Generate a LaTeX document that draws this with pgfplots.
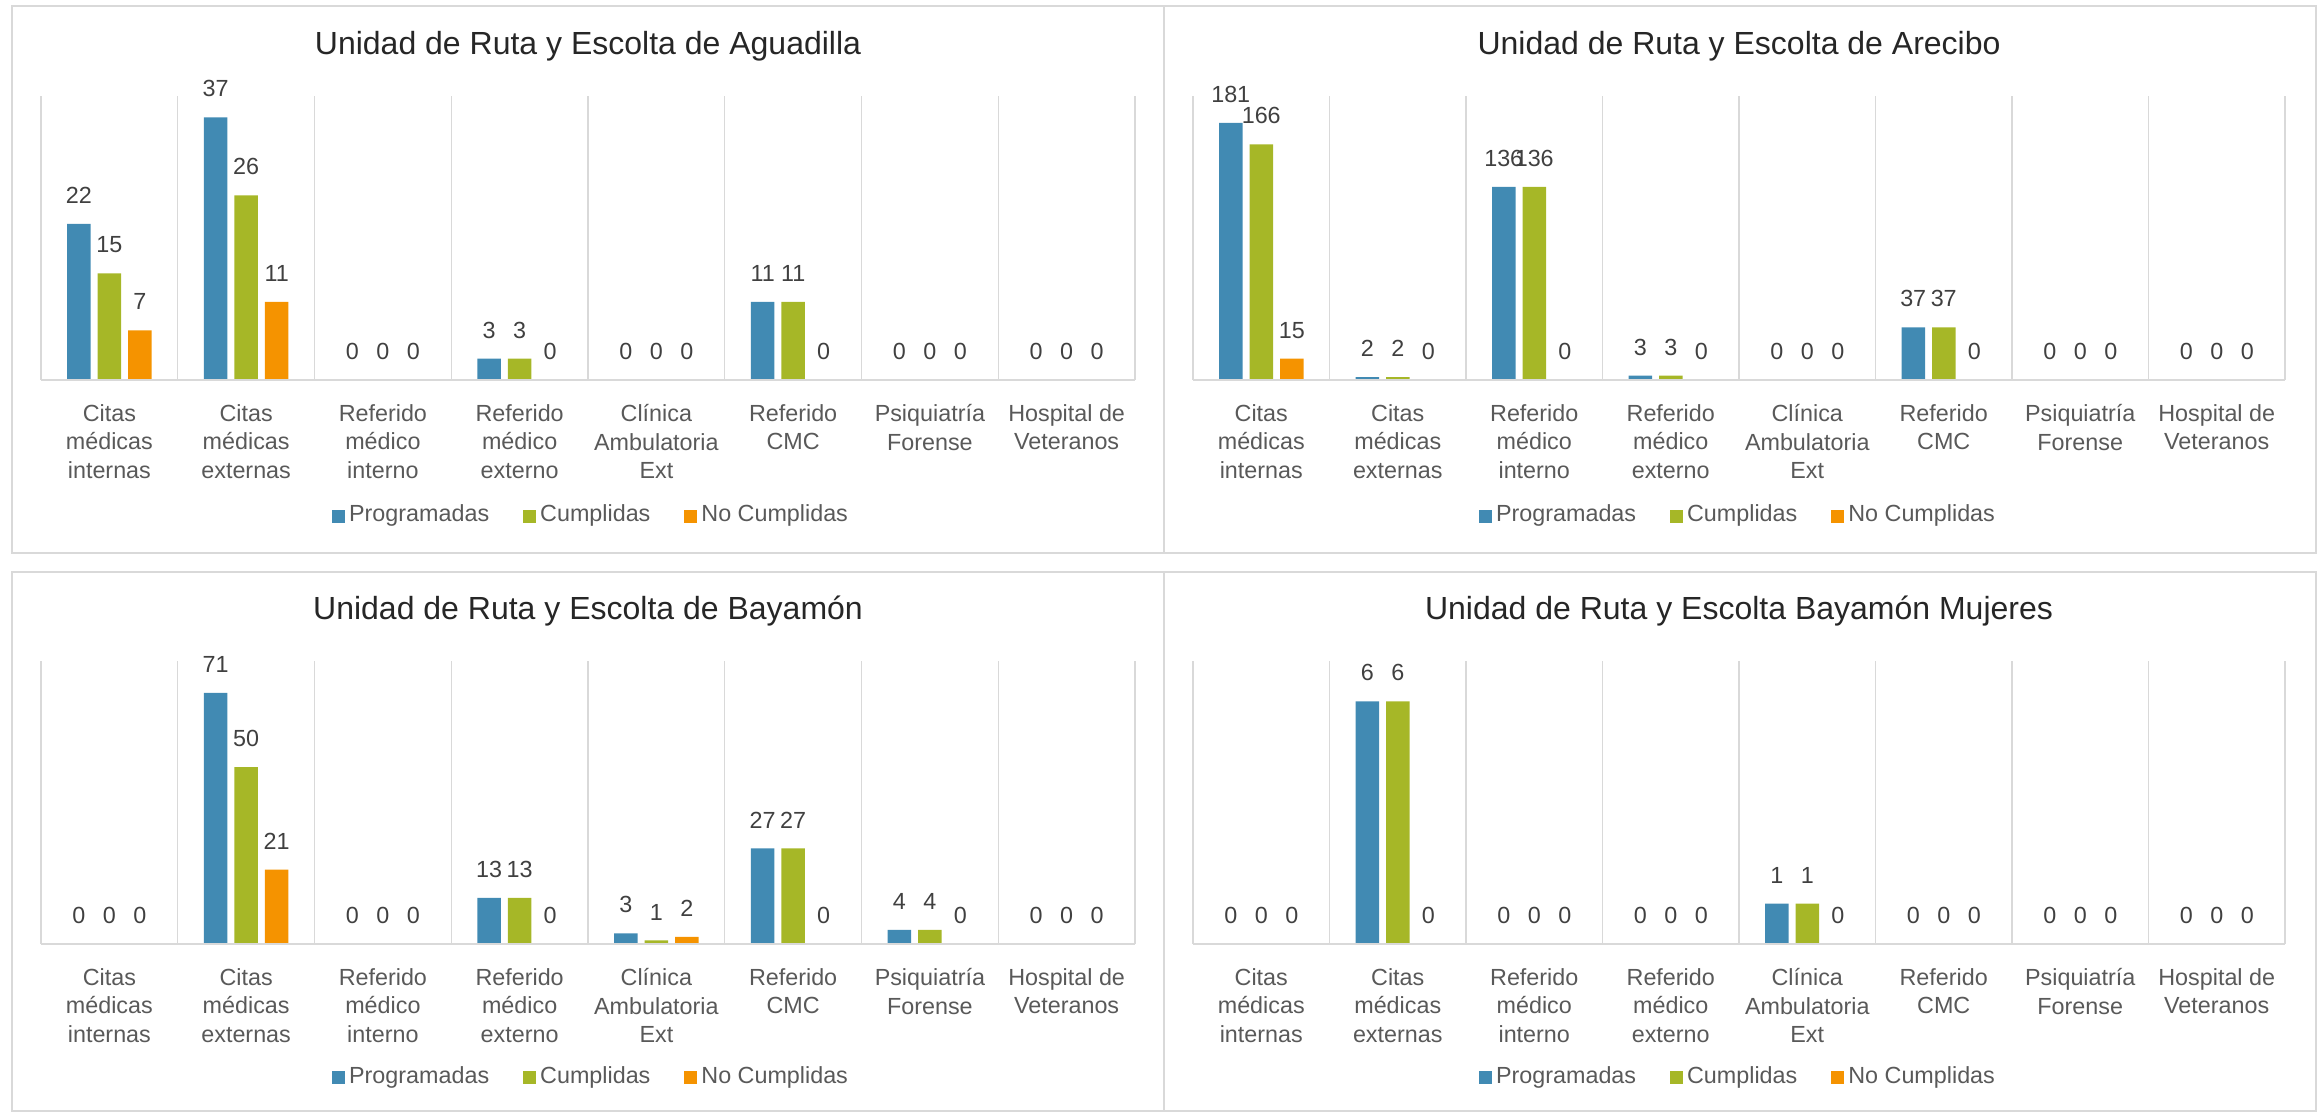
\documentclass[border=0pt]{standalone}
\usepackage{pgfplots}
\pgfplotsset{compat=1.18}
\usepackage{fontspec}
\setmainfont{Liberation Sans}
\definecolor{cblue}{HTML}{418AB3}
\definecolor{cgreen}{HTML}{A6B727}
\definecolor{corange}{HTML}{F59300}
\definecolor{gridc}{HTML}{D9D9D9}
\definecolor{txt}{HTML}{595959}
\definecolor{dlab}{HTML}{404040}
\definecolor{ttl}{HTML}{262626}
\pgfplotsset{
 sq legend/.style={legend image code/.code={\fill[##1] (0pt,-1.95pt) rectangle (3.9pt,1.95pt);}},
 panel/.style={
  scale only axis, ybar=2.1pt, bar width=7.05pt,
  ymin=0, xmin=-0.5, xmax=7.5,
  axis on top,
  axis x line*=bottom, axis y line=none,
  x axis line style={gridc, line width=0.7pt},
  xtick={0,...,7}, major tick length=0pt,
  xticklabels={{Citas\\médicas\\internas},{Citas\\médicas\\externas},{Referido\\médico\\interno},{Referido\\médico\\externo},{Clínica\\Ambulatoria\\Ext},{Referido\\CMC},{Psiquiatría\\Forense},{Hospital de\\Veteranos}},
  xticklabel style={align=center, font=\fontsize{7}{8.55}\selectfont, text=txt, yshift=-3.8pt},
  minor xtick={-0.5,0.5,...,7.5}, xminorgrids, minor grid style={gridc, line width=0.4pt}, minor tick length=0pt,
  ytick=\empty,
  /pgf/number format/assume math mode=true,
  nodes near coords,
  every node near coord/.append style={font=\fontsize{7}{8}\selectfont, text=dlab, yshift=2.6pt},
  legend columns=-1,
  legend style={draw=none, fill=none, anchor=center, font=\fontsize{7}{8}\selectfont, text=txt,
    nodes={inner sep=1.2pt},
    /tikz/every even column/.append style={column sep=9pt}},
  clip=false,
 }
}
\begin{document}
\begin{tikzpicture}
\path[use as bounding box] (0,0) rectangle (695.7pt,333.6pt);
\draw[gridc, line width=0.6pt] (3.6pt,167.7pt) rectangle (349.2pt,331.8pt);
\draw[gridc, line width=0.6pt] (349.2pt,167.7pt) rectangle (694.8pt,331.8pt);
\draw[gridc, line width=0.6pt] (3.6pt,0.3pt) rectangle (349.2pt,162pt);
\draw[gridc, line width=0.6pt] (349.2pt,0.3pt) rectangle (694.8pt,162pt);

% Panel 1: Aguadilla
\begin{axis}[panel, at={(12.3pt,219.6pt)}, anchor=south west, width=328.2pt, height=85.2pt, ymax=40,
  legend style={at={(0.5037,-0.479)}}]
\addplot[fill=cblue, draw=none, sq legend] coordinates {(0,22) (1,37) (2,0) (3,3) (4,0) (5,11) (6,0) (7,0)};
\addplot[fill=cgreen, draw=none, sq legend] coordinates {(0,15) (1,26) (2,0) (3,3) (4,0) (5,11) (6,0) (7,0)};
\addplot[fill=corange, draw=none, sq legend] coordinates {(0,7) (1,11) (2,0) (3,0) (4,0) (5,0) (6,0) (7,0)};
\legend{Programadas,Cumplidas,No Cumplidas}
\end{axis}

% Panel 2: Arecibo
\begin{axis}[panel, at={(357.9pt,219.6pt)}, anchor=south west, width=327.6pt, height=85.2pt, ymax=200,
  legend style={at={(0.5,-0.479)}}]
\addplot[fill=cblue, draw=none, sq legend] coordinates {(0,181) (1,2) (2,136) (3,3) (4,0) (5,37) (6,0) (7,0)};
\addplot[fill=cgreen, draw=none, sq legend] coordinates {(0,166) (1,2) (2,136) (3,3) (4,0) (5,37) (6,0) (7,0)};
\addplot[fill=corange, draw=none, sq legend] coordinates {(0,15) (1,0) (2,0) (3,0) (4,0) (5,0) (6,0) (7,0)};
\legend{Programadas,Cumplidas,No Cumplidas}
\end{axis}

% Panel 3: Bayamon
\begin{axis}[panel, at={(12.3pt,50.4pt)}, anchor=south west, width=328.2pt, height=84.9pt, ymax=80,
  legend style={at={(0.5037,-0.4735)}}]
\addplot[fill=cblue, draw=none, sq legend] coordinates {(0,0) (1,71) (2,0) (3,13) (4,3) (5,27) (6,4) (7,0)};
\addplot[fill=cgreen, draw=none, sq legend] coordinates {(0,0) (1,50) (2,0) (3,13) (4,1) (5,27) (6,4) (7,0)};
\addplot[fill=corange, draw=none, sq legend] coordinates {(0,0) (1,21) (2,0) (3,0) (4,2) (5,0) (6,0) (7,0)};
\legend{Programadas,Cumplidas,No Cumplidas}
\end{axis}

% Panel 4: Bayamon Mujeres
\begin{axis}[panel, at={(357.9pt,50.4pt)}, anchor=south west, width=327.6pt, height=84.9pt, ymax=7,
  legend style={at={(0.5,-0.4735)}}]
\addplot[fill=cblue, draw=none, sq legend] coordinates {(0,0) (1,6) (2,0) (3,0) (4,1) (5,0) (6,0) (7,0)};
\addplot[fill=cgreen, draw=none, sq legend] coordinates {(0,0) (1,6) (2,0) (3,0) (4,1) (5,0) (6,0) (7,0)};
\addplot[fill=corange, draw=none, sq legend] coordinates {(0,0) (1,0) (2,0) (3,0) (4,0) (5,0) (6,0) (7,0)};
\legend{Programadas,Cumplidas,No Cumplidas}
\end{axis}

\node[font=\fontsize{9.6}{11}\selectfont, text=ttl] at (176.4pt,319.8pt) {Unidad de Ruta y Escolta de Aguadilla};
\node[font=\fontsize{9.6}{11}\selectfont, text=ttl] at (521.7pt,319.8pt) {Unidad de Ruta y Escolta de Arecibo};
\node[font=\fontsize{9.6}{11}\selectfont, text=ttl] at (176.4pt,150.3pt) {Unidad de Ruta y Escolta de Bayamón};
\node[font=\fontsize{9.6}{11}\selectfont, text=ttl] at (521.7pt,150.3pt) {Unidad de Ruta y Escolta Bayamón Mujeres};
\end{tikzpicture}
\end{document}
